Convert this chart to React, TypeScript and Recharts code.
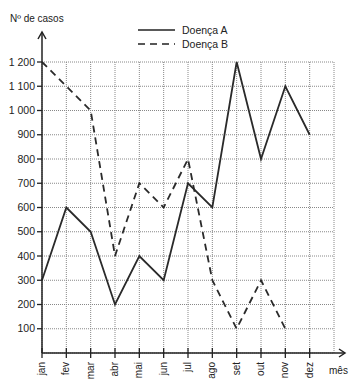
import React from "react";
import { LineChart, Line, XAxis, YAxis, CartesianGrid, Legend } from "recharts";

const months = ["jan", "fev", "mar", "abr", "mai", "jun", "jul", "ago", "set", "out", "nov", "dez"];
const doencaA = [300, 600, 500, 200, 400, 300, 700, 600, 1200, 800, 1100, 900];
const doencaB: (number | null)[] = [1200, 1100, 1000, 400, 700, 600, 800, 300, 100, 300, 100, null];
const yTicks = [100, 200, 300, 400, 500, 600, 700, 800, 900, 1000, 1100, 1200];

const data = months.map((m, i) => ({ idx: i, month: m, a: doencaA[i], b: doencaB[i] }));

const FONT = "'Liberation Sans', Arial, Helvetica, sans-serif";
const INK = "#222";

const fmtY = (v: number) =>
  v >= 1000 ? `${Math.floor(v / 1000)} ${String(v % 1000).padStart(3, "0")}` : String(v);

const XTick = (props: any) => {
  const { x, y, payload } = props;
  return (
    <g>
      <line x1={x} x2={x} y1={y - 5} y2={y + 5} stroke={INK} strokeWidth={1.3} />
      <text
        x={0}
        y={0}
        transform={`translate(${x},${y + 9}) rotate(-90)`}
        textAnchor="end"
        dy="0.3em"
        fontSize={10}
        fontFamily={FONT}
        fill={INK}
      >
        {months[payload.value]}
      </text>
    </g>
  );
};

const LegendContent = () => (
  <svg width={120} height={30} style={{ overflow: "visible", display: "block" }}>
    <line x1={0} x2={37} y1={8} y2={8} stroke={INK} strokeWidth={1.6} />
    <text x={44} y={8} dy="0.35em" fontSize={10.5} fontFamily={FONT} fill={INK}>
      Doença A
    </text>
    <line x1={0} x2={37} y1={22} y2={22} stroke={INK} strokeWidth={1.6} strokeDasharray="7 5" />
    <text x={44} y={22} dy="0.35em" fontSize={10.5} fontFamily={FONT} fill={INK}>
      Doença B
    </text>
  </svg>
);

export default function App() {
  return (
    <div style={{ position: "absolute", left: 0, top: 0, width: 350, height: 379, background: "#fff" }}>
      <LineChart
        width={350}
        height={379}
        data={data}
        margin={{ top: 62, right: 16, bottom: 0, left: 0 }}
      >
        <CartesianGrid stroke="#888" strokeDasharray="1 1" strokeWidth={1} />
        <XAxis
          type="number"
          dataKey="idx"
          domain={[0, 12]}
          ticks={[0, 1, 2, 3, 4, 5, 6, 7, 8, 9, 10, 11]}
          tick={<XTick />}
          tickLine={false}
          tickSize={0}
          tickMargin={0}
          height={26}
          axisLine={{ stroke: INK, strokeWidth: 1.5 }}
          interval={0}
        />
        <YAxis
          type="number"
          domain={[0, 1200]}
          ticks={yTicks}
          tickFormatter={fmtY}
          width={42}
          tickSize={5}
          tickMargin={2}
          interval={0}
          tick={{ fontSize: 10.5, fontFamily: FONT, fill: INK }}
          tickLine={{ stroke: INK, strokeWidth: 1.3 }}
          axisLine={{ stroke: INK, strokeWidth: 1.5 }}
        />
        <Legend
          layout="horizontal"
          verticalAlign="middle"
          align="center"
          content={<LegendContent />}
          wrapperStyle={{ position: "absolute", left: 138, top: 22, width: 120, height: 30 }}
        />
        <Line
          type="linear"
          dataKey="a"
          stroke="#2a2a2a"
          strokeWidth={1.8}
          dot={false}
          isAnimationActive={false}
          legendType="none"
        />
        <Line
          type="linear"
          dataKey="b"
          stroke="#2a2a2a"
          strokeWidth={1.8}
          strokeDasharray="7 5"
          dot={false}
          isAnimationActive={false}
          connectNulls={false}
          legendType="none"
        />
      </LineChart>
      <svg
        width={350}
        height={379}
        style={{ position: "absolute", left: 0, top: 0, pointerEvents: "none" }}
      >
        <line x1={42} x2={42} y1={62} y2={32} stroke={INK} strokeWidth={1.5} />
        <polyline points="38,39 42,32 46,39" fill="none" stroke={INK} strokeWidth={1.5} />
        <line x1={334} x2={345} y1={353} y2={353} stroke={INK} strokeWidth={1.5} />
        <polyline points="339,349 345,353 339,357" fill="none" stroke={INK} strokeWidth={1.5} />
        <text x={10} y={22} fontSize={10} fontFamily={FONT} fill={INK}>
          Nº de casos
        </text>
        <text x={329} y={374} fontSize={10} fontFamily={FONT} fill={INK}>
          mês
        </text>
      </svg>
    </div>
  );
}
